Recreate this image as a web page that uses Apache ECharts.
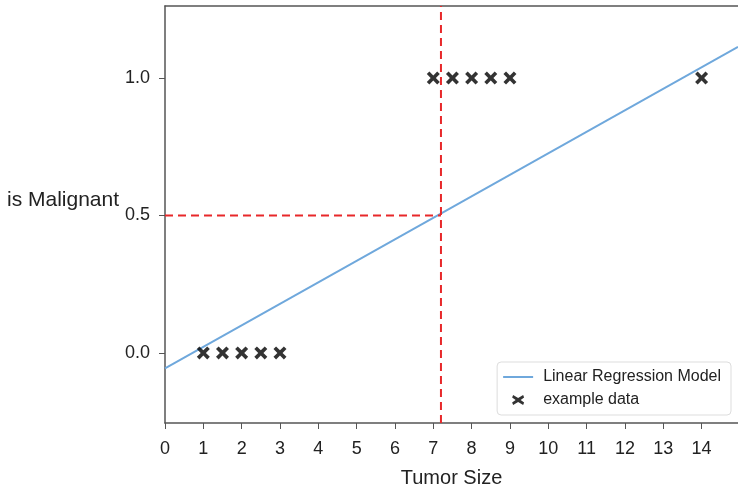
<!DOCTYPE html>
<html><head><meta charset="utf-8">
<script src="https://cdn.jsdelivr.net/npm/echarts@6/dist/echarts.min.js"></script>
<style>html,body{margin:0;padding:0;background:#fff}#c{width:738px;height:489px}</style>
</head><body><div id="c"></div>
<script>
const xTicks = [0,1,2,3,4,5,6,7,8,9,10,11,12,13,14];
const yTicks = [0, 0.5, 1];
const benignX = [1, 1.5, 2, 2.5, 3];
const benignY = [0, 0, 0, 0, 0];
const malignantX = [7, 7.5, 8, 8.5, 9, 14];
const malignantY = [1, 1, 1, 1, 1, 1];
const regX = [0, 14.95];
const regY = [-0.056, 1.113];
const thresholdX = 7.2;
const thresholdY = 0.5;
const xRange = [0, 14.95];
const yRange = [-0.255, 1.262];

const exData = benignX.map((x,i)=>[x, benignY[i]]).concat(malignantX.map((x,i)=>[x, malignantY[i]]));
const regData = regX.map((x,i)=>[x, regY[i]]);
const xMark = 'path://M2,0 L5,3 L8,0 L10,2 L7,5 L10,8 L8,10 L5,7 L2,10 L0,8 L3,5 L0,2 Z';
const font = 'Liberation Sans, Arial, Helvetica, sans-serif';

const chart = echarts.init(document.getElementById('c'), null, {renderer:'canvas'});
chart.setOption({
  animation:false,
  backgroundColor:'#fff',
  textStyle:{fontFamily:font},
  grid:{left:165, right:0, top:6, bottom:66, containLabel:false, outerBoundsMode:'none'},
  xAxis:[{
    type:'value', min:xRange[0], max:xRange[1],
    name:'Tumor Size', nameLocation:'middle', nameGap:45,
    nameTextStyle:{fontSize:20, color:'#222', fontFamily:font},
    axisLine:{onZero:false, lineStyle:{color:'#555', width:1.5}},
    axisTick:{show:true, length:6, lineStyle:{color:'#555'}, customValues:xTicks},
    axisLabel:{fontSize:18, color:'#222', margin:17, customValues:xTicks, fontFamily:font},
    splitLine:{show:false}
  },{
    type:'value', position:'top', min:xRange[0], max:xRange[1],
    axisLine:{show:true, onZero:false, lineStyle:{color:'#555', width:1.5}},
    axisTick:{show:false}, axisLabel:{show:false}, splitLine:{show:false}
  }],
  yAxis:{
    type:'value', min:yRange[0], max:yRange[1],
    axisLine:{show:true, onZero:false, lineStyle:{color:'#555', width:1.5}},
    axisTick:{show:true, length:6, lineStyle:{color:'#555'}, customValues:yTicks},
    axisLabel:{fontSize:18, color:'#222', margin:15, customValues:yTicks, fontFamily:font,
      formatter:v=>v.toFixed(1)},
    splitLine:{show:false}
  },
  graphic:[{type:'text', left:7, top:190, style:{text:'is Malignant', fontSize:21, fill:'#222', fontFamily:font}}],
  legend:{
    orient:'vertical', right:7, bottom:74,
    backgroundColor:'#fff', borderColor:'#ddd', borderWidth:1, borderRadius:4,
    padding:[7,10,7,6], itemGap:7, itemWidth:30, itemHeight:16,
    textStyle:{fontSize:16, color:'#222', fontFamily:font, padding:[0,0,0,5]},
    data:[
      {name:'Linear Regression Model', icon:'path://M0,7 L30,7 L30,9 L0,9 Z', itemStyle:{color:'#6fa8dc'}},
      {name:'example data', icon:'path://M0,0 L0.01,0 L0,0.01 Z M30,16 L29.99,16 L30,15.99 Z M10,3 L15,6 L20,3 L21,5.5 L17.5,8 L21,10.5 L20,13 L15,10 L10,13 L9,10.5 L12.5,8 L9,5.5 Z', itemStyle:{color:'#000'}}
    ]
  },
  series:[
    {name:'Linear Regression Model', type:'line', data:regData, showSymbol:false, symbol:'none',
     lineStyle:{color:'#6fa8dc', width:2}, itemStyle:{color:'#6fa8dc'}, z:2},
    {name:'thrV', type:'line', data:[[thresholdX, yRange[0]],[thresholdX, yRange[1]]], symbol:'none',
     lineStyle:{color:'#e8282a', width:2, type:[8,5]}, z:3},
    {name:'thrH', type:'line', data:[[xRange[0], thresholdY],[thresholdX, thresholdY]], symbol:'none',
     lineStyle:{color:'#e8282a', width:2, type:[8,5]}, z:3},
    {name:'example data', type:'scatter', data:exData, symbol:xMark, symbolSize:13,
     itemStyle:{color:'#000'}, z:4}
  ]
});
</script></body></html>
